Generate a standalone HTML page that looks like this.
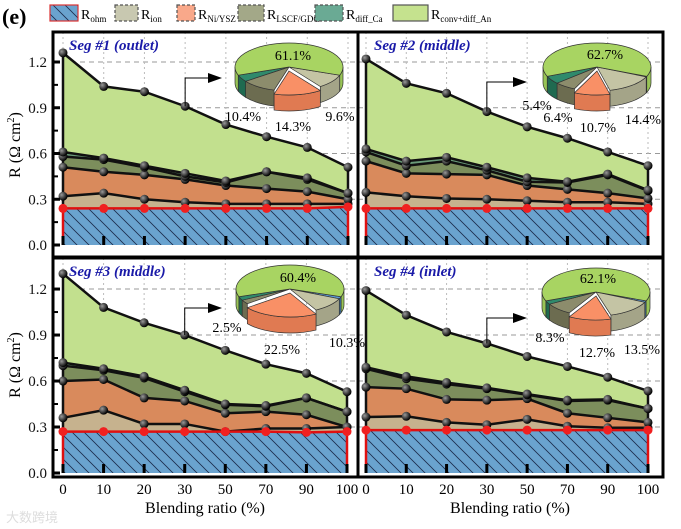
<!DOCTYPE html>
<html><head><meta charset="utf-8"><style>
html,body{margin:0;padding:0;background:#fff;}
svg{display:block;}
svg text{font-family:"Liberation Serif","DejaVu Serif",serif;}
</style></head><body>
<svg id="chart" width="681" height="529" viewBox="0 0 681 529" xmlns="http://www.w3.org/2000/svg" font-family="Liberation Serif, DejaVu Serif, serif">
<defs>
<pattern id="hatch" width="12" height="12" patternUnits="userSpaceOnUse">
<rect width="12" height="12" fill="#6aa3cf"/>
<path d="M-3,-3 L15,15 M-3,9 L3,15 M9,-3 L15,3" stroke="#1c2c4c" stroke-width="0.8"/>
</pattern>
<radialGradient id="ball" cx="35%" cy="35%" r="65%"><stop offset="0" stop-color="#999"/><stop offset="1" stop-color="#000"/></radialGradient>
</defs>
<text x="2" y="24" font-size="22" font-weight="bold">(e)</text>
<g id="legend"></g>
<g id="panels"></g>
<text x="6" y="522" font-size="13" fill="#ddd" style="font-family:'Noto Sans CJK SC',sans-serif">大数跨境</text>
</svg>
<script>
const categories = ["0","10","20","30","50","70","90","100"];
const yTicks = [0,0.3,0.6,0.9,1.2];
const yTickLabels = ["0.0","0.3","0.6","0.9","1.2"];
// cumulative stacked tops per segment
const seg1_ohm = [0.24,0.24,0.24,0.24,0.24,0.24,0.24,0.25];
const seg1_ion = [0.32,0.34,0.30,0.28,0.27,0.27,0.27,0.27];
const seg1_ni = [0.51,0.48,0.46,0.43,0.39,0.37,0.35,0.30];
const seg1_lscf = [0.58,0.56,0.51,0.45,0.41,0.48,0.43,0.34];
const seg1_diff = [0.61,0.57,0.52,0.47,0.42,0.48,0.44,0.34];
const seg1_conv = [1.26,1.04,1.005,0.91,0.79,0.71,0.64,0.51];
const seg2_ohm = [0.24,0.24,0.24,0.24,0.24,0.24,0.24,0.24];
const seg2_ion = [0.345,0.32,0.305,0.30,0.29,0.28,0.28,0.27];
const seg2_ni = [0.55,0.47,0.465,0.46,0.39,0.365,0.34,0.305];
const seg2_lscf = [0.61,0.52,0.55,0.49,0.415,0.41,0.46,0.355];
const seg2_diff = [0.63,0.55,0.575,0.51,0.44,0.415,0.465,0.36];
const seg2_conv = [1.22,1.06,0.995,0.875,0.775,0.70,0.61,0.52];
const seg3_ohm = [0.27,0.27,0.27,0.27,0.27,0.27,0.265,0.27];
const seg3_ion = [0.36,0.41,0.32,0.32,0.27,0.29,0.29,0.30];
const seg3_ni = [0.60,0.61,0.49,0.47,0.39,0.40,0.38,0.30];
const seg3_lscf = [0.70,0.67,0.62,0.53,0.445,0.435,0.49,0.40];
const seg3_diff = [0.72,0.68,0.63,0.54,0.45,0.44,0.49,0.40];
const seg3_conv = [1.30,1.08,0.98,0.90,0.80,0.71,0.65,0.53];
const seg4_ohm = [0.28,0.28,0.28,0.28,0.28,0.28,0.28,0.28];
const seg4_ion = [0.365,0.37,0.33,0.315,0.35,0.305,0.295,0.295];
const seg4_ni = [0.56,0.55,0.48,0.475,0.485,0.39,0.36,0.33];
const seg4_lscf = [0.68,0.615,0.58,0.55,0.51,0.47,0.475,0.42];
const seg4_diff = [0.69,0.63,0.59,0.555,0.515,0.475,0.48,0.42];
const seg4_conv = [1.19,1.03,0.92,0.845,0.76,0.695,0.625,0.535];
// pie shares (%): blue, ion, ni, lscf, diff, conv
const pie1 = [0,9.6,14.3,10.4,4.6,61.1];
const pie2 = [0.4,14.4,10.7,6.4,5.4,62.7];
const pie3 = [1.5,10.3,22.5,2.8,2.5,60.4];
const pie4 = [1.0,13.5,12.7,8.3,2.4,62.1];

const NS="http://www.w3.org/2000/svg";
const svg=document.getElementById('chart');
const panelsG=document.getElementById('panels');
function mk(tag,attrs,parent){const e=document.createElementNS(NS,tag);for(const k in attrs)e.setAttribute(k,attrs[k]);(parent||svg).appendChild(e);return e;}

const legG=document.getElementById('legend');
const legItems=[[50,78,'url(#hatch)','#d33','ohm',false],[115,138,'#c8c8b0','#555','ion',true],[177,195,'#f9a88a','#555','Ni/YSZ',true],[238,264,'#a3a888','#555','LSCF/GDC',true],[315,343,'#6aaa94','#555','diff_Ca',true],[393,428,'#c5e28e','#555','conv+diff_An',false]];
const legNames=['legend-ohm','legend-ion','legend-ni-ysz','legend-lscf-gdc','legend-diff-ca','legend-conv-diff-an'];
legItems.forEach((it,i)=>{
  const g=mk('g',{},legG);
  
  
  mk('rect',{x:it[0],y:5,width:it[1]-it[0],height:16,fill:it[2],stroke:it[3],'stroke-width':1.2,'stroke-dasharray':it[5]?'3,2':'none'},g);
  const t=mk('text',{x:it[1]+3,y:19,'font-size':14},g);
  t.textContent='R';
  const s=mk('tspan',{'font-size':9,dy:3},t);s.textContent=it[4];
});

const fills={ion:'#c6b28e',ni:'#d98a5c',lscf:'#7c8e5c',diff:'#6a9a78',conv:'#c2e08e'};

function drawPanel(p){
  const g=mk('g',{},panelsG);
  
  
  const n=categories.length;
  const xs=i=>p.x0+(p.x1-p.x0)*i/(n-1);
  const ys=v=>p.y0-v*p.per;
  yTicks.forEach((t,i)=>{
    if(t>0) mk('line',{x1:p.fx0,x2:p.fx1,y1:ys(t),y2:ys(t),stroke:'#999','stroke-dasharray':'5,4','stroke-width':1},g);
    if(p.showY){
      const lab=mk('text',{x:p.fx0-6,y:ys(t)+5,'text-anchor':'end','font-size':15,fill:'#111'},g);
      
      
      lab.textContent=yTickLabels[i];
    }
  });
  categories.forEach((c,i)=>{
    mk('line',{x1:xs(i),x2:xs(i),y1:p.fy0,y2:p.y0,stroke:'#bbb','stroke-dasharray':'2,3'},g);
  });
  const layers=[[p.ohm,p.ion,'ion'],[p.ion,p.ni,'ni'],[p.ni,p.lscf,'lscf'],[p.lscf,p.diff,'diff'],[p.diff,p.conv,'conv']];
  let d='M'+xs(0)+','+p.y0;
  p.ohm.forEach((v,i)=>d+=' L'+xs(i)+','+ys(v));
  d+=' L'+xs(n-1)+','+p.y0+' Z';
  const oa=mk('path',{d:d,fill:'url(#hatch)'},g);
  
  
  layers.forEach(L=>{
    let d='M'+xs(0)+','+ys(L[0][0]);
    L[1].forEach((v,i)=>d+=' L'+xs(i)+','+ys(v));
    for(let i=n-1;i>=0;i--)d+=' L'+xs(i)+','+ys(L[0][i]);
    const a=mk('path',{d:d+' Z',fill:fills[L[2]]},g);
    
    
  });
  [p.ion,p.ni,p.lscf,p.diff,p.conv].forEach(arr=>{
    const pts=arr.map((v,i)=>xs(i)+','+ys(v)).join(' ');
    const l=mk('polyline',{points:pts,fill:'none',stroke:'#111','stroke-width':2.5},g);
    
    
  });
  mk('line',{x1:xs(0),x2:xs(0),y1:ys(p.ohm[0]),y2:ys(p.conv[0]),stroke:'#111','stroke-width':2.5},g);
  mk('line',{x1:xs(n-1),x2:xs(n-1),y1:ys(p.ohm[n-1]),y2:ys(p.conv[n-1]),stroke:'#111','stroke-width':2.5},g);
  [p.ion,p.ni,p.lscf,p.diff,p.conv].forEach(arr=>arr.forEach((v,i)=>{
    const c=mk('circle',{cx:xs(i),cy:ys(v),r:4.5,fill:'url(#ball)'},g);
    
    
  }));
  mk('polyline',{points:p.ohm.map((v,i)=>xs(i)+','+ys(v)).join(' '),fill:'none',stroke:'#e01010','stroke-width':2.5},g);
  mk('line',{x1:xs(0),x2:xs(0),y1:p.y0,y2:ys(p.ohm[0]),stroke:'#e01010','stroke-width':2.5},g);
  mk('line',{x1:xs(n-1),x2:xs(n-1),y1:p.y0,y2:ys(p.ohm[n-1]),stroke:'#e01010','stroke-width':2.5},g);
  p.ohm.forEach((v,i)=>{
    const c=mk('circle',{cx:xs(i),cy:ys(v),r:4.5,fill:'#f02020'},g);
    
    
  });
  categories.forEach((c,i)=>{
    mk('line',{x1:xs(i),x2:xs(i),y1:p.y0,y2:p.y0-9,stroke:'#000','stroke-width':3},g);
    if(p.showX){
      const t=mk('text',{x:xs(i),y:p.fy1+17,'text-anchor':'middle','font-size':15},g);
      
      
      t.textContent=c;
    }
  });
  yTicks.forEach(t=>{ if(p.showY){mk('line',{x1:p.fx0,x2:p.fx0+7,y1:ys(t),y2:ys(t),stroke:'#000','stroke-width':3},g);
    if(t<1.2) mk('line',{x1:p.fx0,x2:p.fx0+5,y1:ys(t+0.15),y2:ys(t+0.15),stroke:'#000','stroke-width':2},g);}});
  mk('rect',{x:p.fx0,y:p.fy0,width:p.fx1-p.fx0,height:p.fy1-p.fy0,fill:'none',stroke:'#000','stroke-width':3},g);
  const tt=mk('text',{x:p.fx0+16,y:p.fy0+18,'font-size':15,'font-weight':'bold','font-style':'italic',fill:'#1a1aa8'},g);
  
  
  tt.textContent=p.title;
  const ax=xs(3), ay=ys(p.conv[3]);
  mk('path',{d:'M'+ax+','+ay+' V'+p.ay+' H'+(p.ax-12),fill:'none',stroke:'#000','stroke-width':1},g);
  mk('path',{d:'M'+(p.ax-14)+','+(p.ay-5)+' L'+p.ax+','+p.ay+' L'+(p.ax-14)+','+(p.ay+5)+' Z',fill:'#000'},g);
  drawPie(g,p.pcx,p.pcy,p.pie,p.labels);
}

const pieTop=['#5b9bd5','#c4c4a4','#f99066','#8c8c6c','#2f8a6c','#a8d462'];
const pieSide=['#3f7fb5','#a4a488','#e07a52','#6c6c50','#1f6a50','#98c456'];
function pt(cx,cy,rx,ry,a){return [cx+rx*Math.cos(a*Math.PI/180),cy+ry*Math.sin(a*Math.PI/180)];}
function drawPie(g,cx,cy,vals,labels){
  const rx=54,ry=24,dep=16;
  const pg=mk('g',{},g);
  
  
  const nonGreen=100-vals[5];
  let a=90-nonGreen*3.6/2;
  const sl=[];
  vals.forEach((v,i)=>{const a0=a,a1=a+v*3.6;a=a1;sl.push([a0,a1,i]);});
  function sides(s,ox,oy){
    [[s[0],s[1]],[s[0]-360,s[1]-360]].forEach(q=>{
      const b0=Math.max(q[0],0),b1=Math.min(q[1],180);
      if(b1<=b0) return;
      const c=cx+ox,cy2=cy+oy;
      const p0=pt(c,cy2,rx,ry,b0),p1=pt(c,cy2,rx,ry,b1);
      const dd='M'+p0[0]+','+p0[1]+' A'+rx+','+ry+' 0 0 1 '+p1[0]+','+p1[1]+' L'+p1[0]+','+(p1[1]+dep)+' A'+rx+','+ry+' 0 0 0 '+p0[0]+','+(p0[1]+dep)+' Z';
      mk('path',{d:dd,fill:pieSide[s[2]],stroke:'#333','stroke-width':0.7},pg);
    });
  }
  function top(s,ox,oy){
    const c=cx+ox,cy2=cy+oy;
    const p0=pt(c,cy2,rx,ry,s[0]),p1=pt(c,cy2,rx,ry,s[1]);
    const large=(s[1]-s[0])>180?1:0;
    const dd='M'+c+','+cy2+' L'+p0[0]+','+p0[1]+' A'+rx+','+ry+' 0 '+large+' 1 '+p1[0]+','+p1[1]+' Z';
    const sp=mk('path',{d:dd,fill:pieTop[s[2]],stroke:'#333','stroke-width':0.7},pg);
    
    
  }
  sl.forEach(s=>{ if(s[1]>s[0] && s[2]!=2) sides(s,0,0); });
  sl.forEach(s=>{ if(s[1]>s[0] && s[2]!=2) top(s,0,0); });
  const ni=sl[2];
  if(ni[1]>ni[0]){ sides(ni,0,4); top(ni,0,4); }
  labels.forEach(L=>{
    const t=mk('text',{x:L[0],y:L[1],'text-anchor':'middle','font-size':14},pg);
    
    
    t.textContent=L[2];
  });
}

const topPer=152.5, botPer=153.3;
drawPanel({name:'panel-seg1',title:'Seg #1 (outlet)',x0:63,x1:348,y0:245,per:topPer,fx0:53,fx1:358,fy0:32,fy1:257,showY:true,showX:false,
  ohm:seg1_ohm,ion:seg1_ion,ni:seg1_ni,lscf:seg1_lscf,diff:seg1_diff,conv:seg1_conv,ax:222,ay:78,pcx:289,pcy:67,pie:pie1,
  labels:[[293,60,'61.1%'],[243,121,'10.4%'],[293,131,'14.3%'],[340,121,'9.6%']]});
drawPanel({name:'panel-seg2',title:'Seg #2 (middle)',x0:366,x1:648,y0:245,per:topPer,fx0:358,fx1:663,fy0:32,fy1:257,showY:false,showX:false,
  ohm:seg2_ohm,ion:seg2_ion,ni:seg2_ni,lscf:seg2_lscf,diff:seg2_diff,conv:seg2_conv,ax:527,ay:82,pcx:597,pcy:67,pie:pie2,
  labels:[[605,59,'62.7%'],[537,110,'5.4%'],[558,122,'6.4%'],[598,132,'10.7%'],[643,124,'14.4%']]});
drawPanel({name:'panel-seg3',title:'Seg #3 (middle)',x0:63,x1:347,y0:473,per:botPer,fx0:53,fx1:358,fy0:258,fy1:477,showY:true,showX:true,
  ohm:seg3_ohm,ion:seg3_ion,ni:seg3_ni,lscf:seg3_lscf,diff:seg3_diff,conv:seg3_conv,ax:222,ay:308,pcx:290,pcy:289,pie:pie3,
  labels:[[298,282,'60.4%'],[227,332,'2.5%'],[282,354,'22.5%'],[347,347,'10.3%']]});
drawPanel({name:'panel-seg4',title:'Seg #4 (inlet)',x0:366,x1:648,y0:473,per:botPer,fx0:358,fx1:663,fy0:258,fy1:477,showY:false,showX:true,
  ohm:seg4_ohm,ion:seg4_ion,ni:seg4_ni,lscf:seg4_lscf,diff:seg4_diff,conv:seg4_conv,ax:527,ay:318,pcx:596,pcy:292,pie:pie4,
  labels:[[598,283,'62.1%'],[550,342,'8.3%'],[597,357,'12.7%'],[642,354,'13.5%']]});

[145,365].forEach(c=>{
  const t=mk('text',{x:0,y:0,'font-size':16,'text-anchor':'middle',transform:'translate(20,'+c+') rotate(-90)'});
  
  
  t.textContent='R (Ω cm';
  const s=mk('tspan',{'font-size':10,dy:-6},t);s.textContent='2';
  const s2=mk('tspan',{dy:6},t);s2.textContent=')';
});
[205,510].forEach(c=>{
  const t=mk('text',{x:c,y:513,'font-size':16,'text-anchor':'middle'});
  
  
  t.textContent='Blending ratio (%)';
});
</script>
</body></html>
